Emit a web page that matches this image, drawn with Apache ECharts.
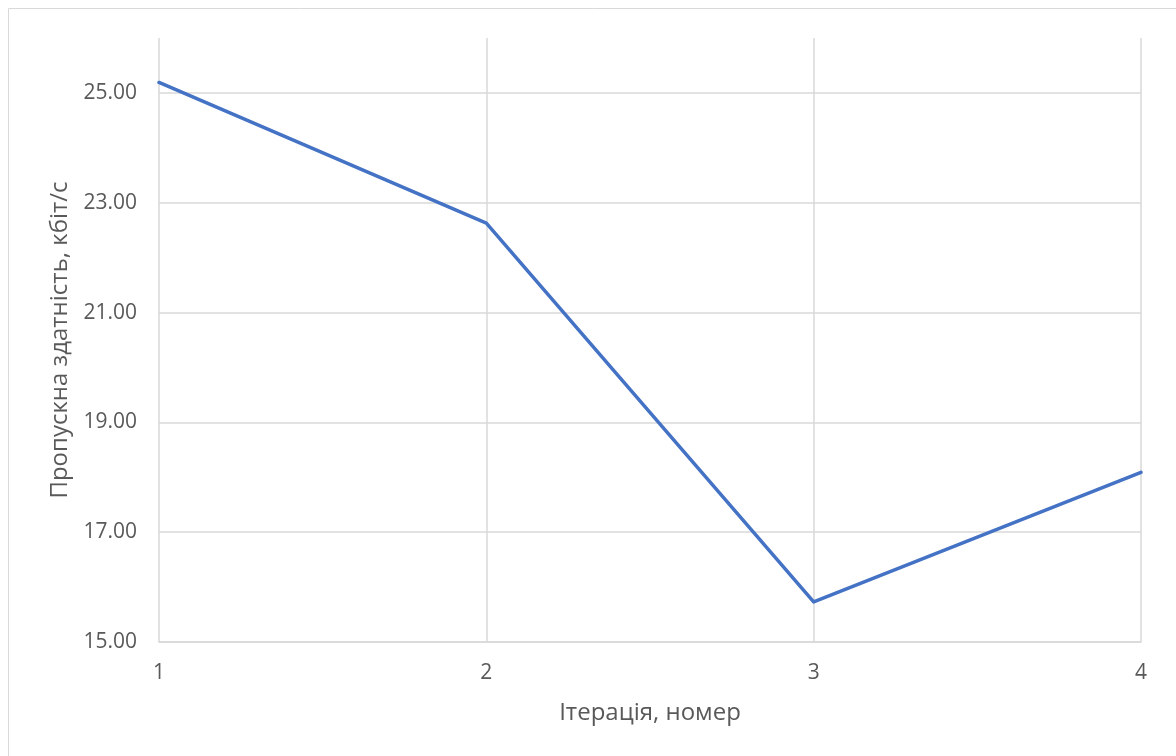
<!DOCTYPE html>
<html>
<head>
<meta charset="utf-8">
<script src="https://cdn.jsdelivr.net/npm/echarts@6/dist/echarts.min.js"></script>
<style>
  html, body { margin: 0; padding: 0; background: #fff; }
  #chart { width: 1176px; height: 756px; }
</style>
</head>
<body>
<div id="chart"></div>
<script>
// Iteration numbers and measured throughput (kbit/s)
const iterations = ['1', '2', '3', '4'];
const throughput = [25.19, 22.63, 15.73, 18.09];
const yTitle = 'Пропускна здатність, кбіт/с';
const xTitle = 'Ітерація, номер';

const fontFamily = '"Open Sans", "Noto Sans", sans-serif';
const textColor = '#595959';
const gridColor = '#D9D9D9';

const chart = echarts.init(document.getElementById('chart'));
chart.setOption({
  animation: false,
  backgroundColor: '#fff',
  graphic: [{
    type: 'rect',
    shape: { x: 8.5, y: 8.5, width: 1300, height: 900 },
    style: { fill: 'none', stroke: '#D9D9D9', lineWidth: 1 },
    silent: true
  }],
  grid: { left: 159, right: 35, top: 38, bottom: 114 },
  xAxis: {
    type: 'category',
    data: iterations,
    boundaryGap: false,
    name: xTitle,
    nameLocation: 'middle',
    nameGap: 59,
    nameTextStyle: { color: textColor, fontSize: 24, fontFamily },
    axisLine: { lineStyle: { color: gridColor, width: 1.5 } },
    axisTick: { show: false },
    axisLabel: { color: textColor, fontSize: 21, fontFamily, margin: 21 },
    splitLine: { show: true, lineStyle: { color: gridColor, width: 1.5 } }
  },
  yAxis: {
    type: 'value',
    min: 15,
    max: 26,
    interval: 2,
    name: yTitle,
    nameLocation: 'middle',
    nameGap: 87,
    nameTextStyle: { color: textColor, fontSize: 24, fontFamily },
    axisLine: { show: false },
    axisTick: { show: false },
    axisLabel: {
      color: textColor, fontSize: 21, fontFamily, margin: 22,
      showMaxLabel: false,
      formatter: v => v.toFixed(2)
    },
    splitLine: { show: true, showMaxLine: false, lineStyle: { color: gridColor, width: 1.5 } }
  },
  series: [{
    type: 'line',
    data: throughput,
    symbol: 'none',
    lineStyle: { color: '#4472C4', width: 3.5, cap: 'round', join: 'round' }
  }]
});
</script>
</body>
</html>
